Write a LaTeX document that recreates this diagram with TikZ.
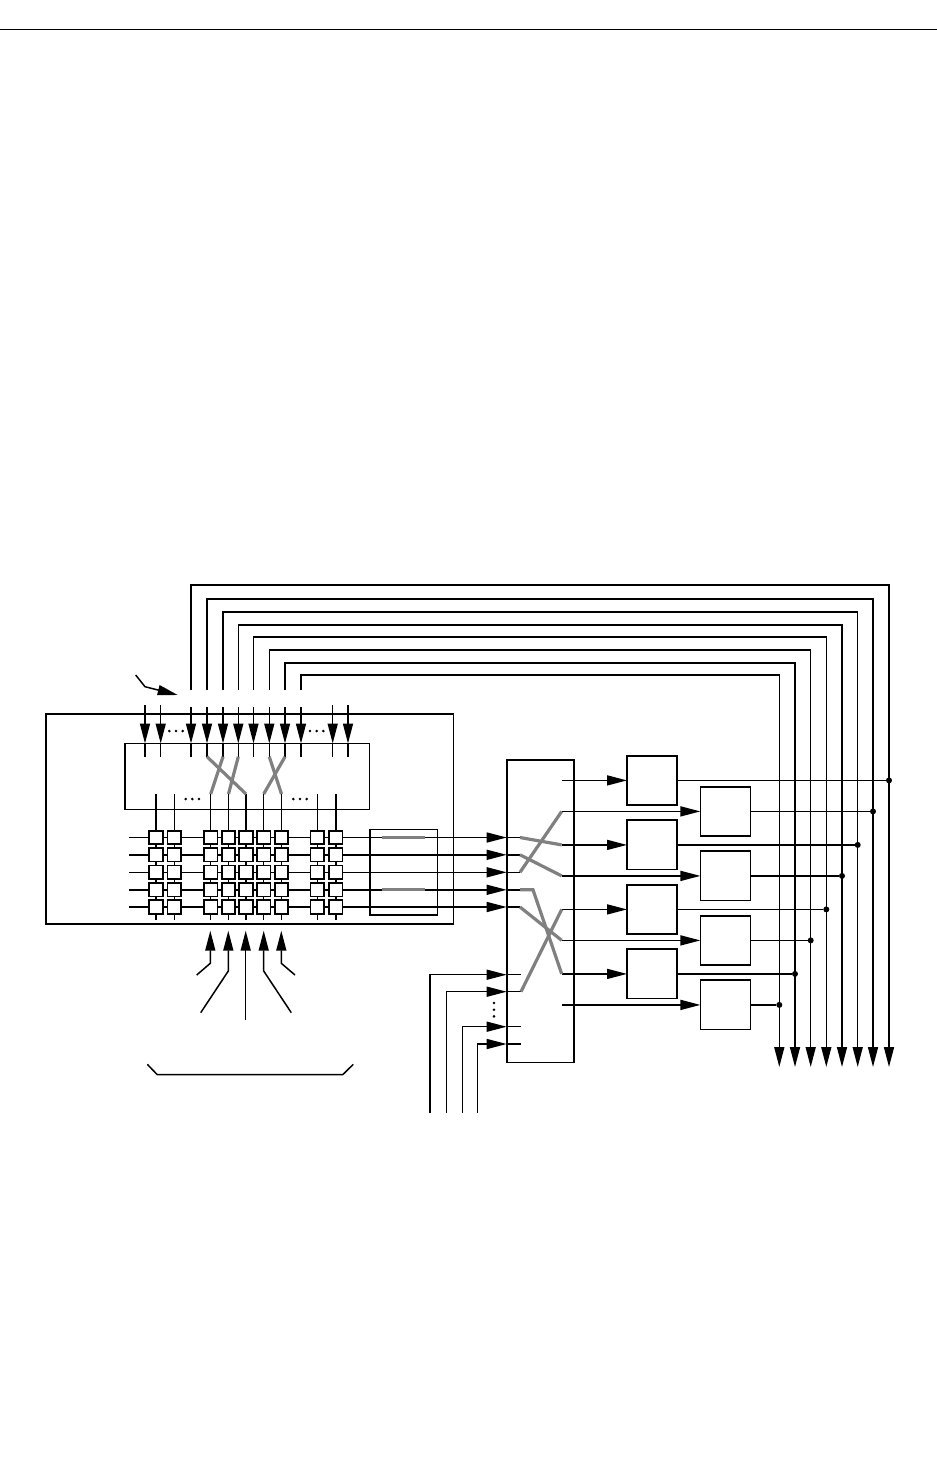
\documentclass[tikz,border=0pt]{standalone}
\usepackage{tikz}
\usetikzlibrary{positioning,arrows.meta,backgrounds}
\definecolor{swapgray}{HTML}{808080}
\tikzset{
  wire/.style    = {line width=1.5pt, draw=black},
  flow/.style    = {-{Triangle[length=20pt,width=10pt]}, line width=1.5pt, draw=black},
  bus/.style     = {line width=3.2pt, draw=swapgray},
  frame/.style   = {rectangle, draw=black, line width=1.6pt, inner sep=0pt, outer sep=0pt},
  cell/.style    = {frame, fill=white, line width=1.7pt, minimum size=13.6pt},
  unit/.style    = {frame, fill=white, line width=1.7pt, minimum width=50pt, minimum height=49.3pt},
  joint/.style   = {circle, fill=black, inner sep=0pt, minimum size=6pt},
  pip/.style     = {circle, fill=black, inner sep=0pt, minimum size=2.9pt},
}
\begin{document}
\begin{tikzpicture}[x=1pt,y=-1pt,node distance=15.2pt]
  \useasboundingbox (0,0) rectangle (937,1476);
  \coordinate (ruleL) at (0,29);
  \coordinate (ruleR) at (937,29);
  \draw[line width=1pt] (ruleL)--(ruleR);

  % frames
  \node[frame, minimum width=407.5pt, minimum height=210pt] (outer) at (249.7,819) {};
  \node[frame, minimum width=244.3pt, minimum height=66pt] (inner) at (247.2,776.3) {};
  \node[frame, minimum width=67.3pt, minimum height=85.4pt] (xbox) at (403.7,872) {};
  \node[frame, line width=1.7pt, minimum width=67pt, minimum height=302.3pt] (switch) at (540.2,911.2) {};

  % output units
  \node[unit] (u1) at (652,780.4) {};
  \node[unit, below=of u1] (u3) {};
  \node[unit, below=of u3] (u5) {};
  \node[unit, below=of u5] (u7) {};
  \node[unit] (u2) at (725.4,811.4) {};
  \node[unit, below=of u2] (u4) {};
  \node[unit, below=of u4] (u6) {};
  \node[unit, below=of u6] (u8) {};

  % long buses over the top
  \foreach \n/\x/\y/\e in {1/191/585/889,2/207/599/873,3/223/612/857.7,4/238.3/625/842,
                           5/253.5/637/826.3,6/269.3/650/810.7,7/285/663/795,8/301/675/779.3}{
    \coordinate (lead\n) at (\x,690);
    \coordinate (cornerA\n) at (\x,\y);
    \coordinate (cornerB\n) at (\e,\y);
    \coordinate (end\n) at (\e,1067);
    \draw[flow] (lead\n)--(cornerA\n)--(cornerB\n)--(end\n);
  }

  % inputs of the inner frame
  \foreach \n/\x/\t in {a/145/705,b/160.7/705,1/191/707,2/207/707,3/223/707,4/238.3/707,5/253.5/707,
                        6/269.3/707,7/285/707,8/301/707,c/332.7/705,d/348/705}{
    \coordinate (pin\n) at (\x,\t);
    \coordinate (tip\n) at (\x,743.5);
    \coordinate (stub\n) at (\x,756.7);
    \draw[flow] (pin\n)--(tip\n);
    \draw[wire] (tip\n)--(stub\n);
  }

  % cell array
  \foreach \c/\x in {1/156,2/174.3,3/210.7,4/228.5,5/246,6/263.7,7/281.5,8/317.4,9/335.8}{
    \coordinate (top\c) at (\x,794);
    \coordinate (foot\c) at (\x,920);
    \foreach \r/\y in {1/837.5,2/854.8,3/872.3,4/889.8,5/907}{
      \node[cell] (c\c-\r) at (\x,\y) {};
    }
    \begin{scope}[on background layer]
      \draw[wire] (top\c)--(foot\c);
    \end{scope}
  }
  \draw[bus] (stub2)--(top5);
  \draw[bus] (stub3)--(top3);
  \draw[bus] (stub4)--(top4);
  \draw[bus] (stub6)--(top7);
  \draw[bus] (stub7)--(top6);

  % rows into the switch
  \foreach \r/\y in {1/837.5,2/854.8,3/872.3,4/889.8,5/907}{
    \coordinate (row\r) at (129.3,\y);
    \coordinate (tipr\r) at (506.7,\y);
    \coordinate (in\r) at (520,\y);
    \begin{scope}[on background layer]
      \draw[flow] (row\r)--(tipr\r);
    \end{scope}
    \draw[wire] (tipr\r)--(in\r);
  }
  \coordinate (bar1a) at (381.7,837.5);
  \coordinate (bar1b) at (425,837.5);
  \coordinate (bar2a) at (381.7,889.8);
  \coordinate (bar2b) at (425,889.8);
  \draw[bus] (bar1a)--(bar1b);
  \draw[bus] (bar2a)--(bar2b);

  % inputs from below
  \foreach \n/\x/\y in {6/430/974.7,7/446.7/991.7,8/462.3/1026.7,9/477.7/1044}{
    \coordinate (feed\n) at (\x,1113);
    \coordinate (bend\n) at (\x,\y);
    \coordinate (tipr\n) at (506.7,\y);
    \coordinate (in\n) at (521,\y);
    \draw[flow] (feed\n)--(bend\n)--(tipr\n);
    \draw[wire] (tipr\n)--(in\n);
  }
  \foreach \y in {1003,1009.7,1016.3} \node[pip] (vdot\y) at (494,\y) {};

  % switch outputs
  \foreach \n in {1,...,8}{
    \coordinate (out\n) at (561.7,0 |- u\n);
    \draw[flow] (out\n)--(u\n.west);
  }
  \coordinate (mid4) at (533,889.8);
  \draw[bus] (in1)--(out3);
  \draw[bus] (in2)--(out4);
  \draw[bus] (in3)--(out2);
  \draw[bus] (in4)--(mid4)--(out7);
  \draw[bus] (in5)--(out6);
  \draw[bus] (in7)--(out5);

  % outputs onto the buses
  \foreach \n/\b in {1/1,2/2,3/3,4/4,5/5,6/6,7/7,8/8}{
    \node[joint] (j\n) at (end\b |- u\n) {};
    \draw[wire] (u\n.east)--(j\n);
  }

  % dots
  \foreach \x in {169.3,176,182.7,310,316.7,323.3} \node[pip] (udot\x) at (\x,731) {};
  \foreach \x in {185.7,192.3,199,293.3,300,306.7} \node[pip] (ldot\x) at (\x,799) {};

  % pointer
  \coordinate (ptrA) at (135.7,675);
  \coordinate (ptrB) at (145,686.7);
  \coordinate (ptrC) at (177.7,695);
  \draw[flow] (ptrA)--(ptrB)--(ptrC);

  % arrows from below
  \foreach \n/\x/\y/\xx/\yy in {1/210.3/963.3/196.7/975,2/228.3/971/200.7/1012.7,
                                 4/263.7/971/291.3/1012.7,5/281.3/963.3/295/975}{
    \coordinate (up\n) at (\x,930.7);
    \coordinate (knee\n) at (\x,\y);
    \coordinate (low\n) at (\xx,\yy);
    \draw[flow] (low\n)--(knee\n)--(up\n);
  }
  \coordinate (up3) at (245.7,930.7);
  \coordinate (low3) at (245.7,1020);
  \draw[flow] (low3)--(up3);

  \coordinate (brA) at (147.3,1064.3);
  \coordinate (brB) at (157.3,1074.7);
  \coordinate (brC) at (342.7,1074.7);
  \coordinate (brD) at (353.3,1064.3);
  \draw[wire] (brA)--(brB)--(brC)--(brD);
\end{tikzpicture}
\end{document}
